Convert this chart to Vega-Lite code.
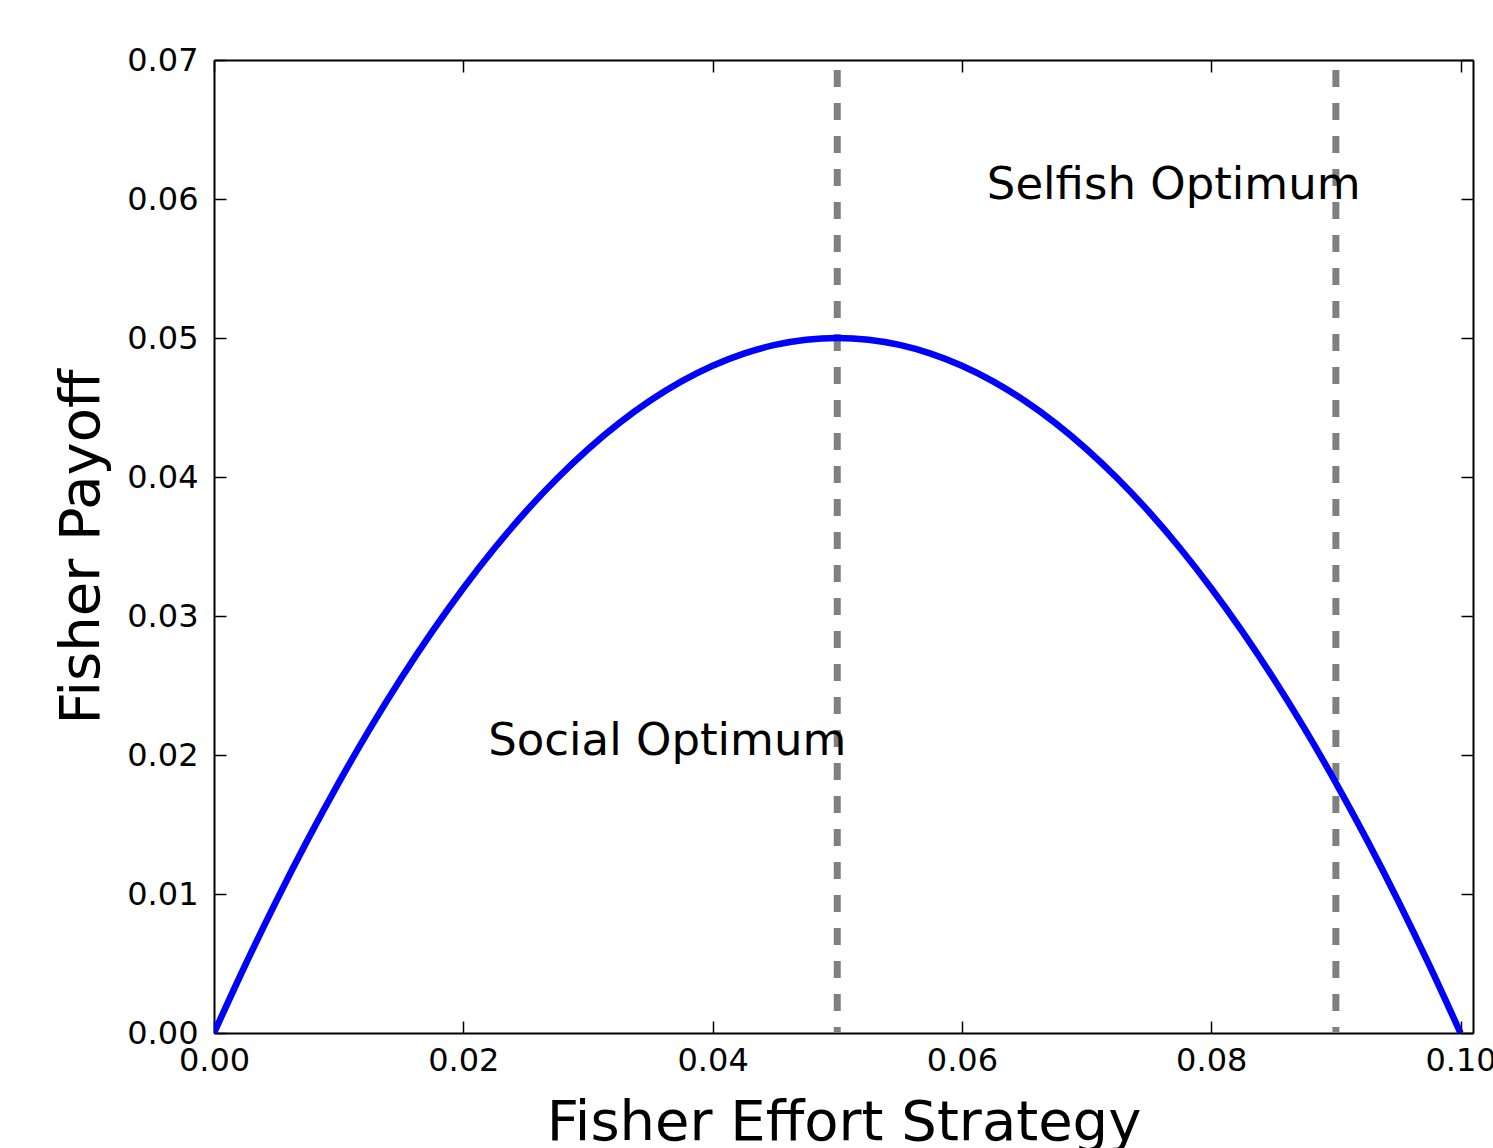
{
  "$schema": "https://vega.github.io/schema/vega-lite/v6.json",
  "width": 1259,
  "height": 973,
  "autosize": "none",
  "padding": {"left": 214, "top": 60, "right": 20, "bottom": 115},
  "background": "white",
  "config": {
    "font": "DejaVu Sans",
    "view": {"stroke": null},
    "axis": {
      "grid": false,
      "domainColor": "black",
      "domainWidth": 2,
      "tickColor": "black",
      "tickWidth": 1.5,
      "tickSize": -12,
      "labelFont": "DejaVu Sans",
      "labelFontSize": 32,
      "labelColor": "black",
      "titleFont": "DejaVu Sans",
      "titleFontSize": 56,
      "titleFontWeight": "normal",
      "titleColor": "black",
      "labelOverlap": false,
      "labelFlush": false
    }
  },
  "datasets": {
    "curve": [
      {"effort": 0.0, "payoff": 0.0},
      {"effort": 0.0025, "payoff": 0.004875},
      {"effort": 0.005, "payoff": 0.0095},
      {"effort": 0.0075, "payoff": 0.013875},
      {"effort": 0.01, "payoff": 0.018},
      {"effort": 0.0125, "payoff": 0.021875},
      {"effort": 0.015, "payoff": 0.0255},
      {"effort": 0.0175, "payoff": 0.028875},
      {"effort": 0.02, "payoff": 0.032},
      {"effort": 0.0225, "payoff": 0.034875},
      {"effort": 0.025, "payoff": 0.0375},
      {"effort": 0.0275, "payoff": 0.039875},
      {"effort": 0.03, "payoff": 0.042},
      {"effort": 0.0325, "payoff": 0.043875},
      {"effort": 0.035, "payoff": 0.0455},
      {"effort": 0.0375, "payoff": 0.046875},
      {"effort": 0.04, "payoff": 0.048},
      {"effort": 0.0425, "payoff": 0.048875},
      {"effort": 0.045, "payoff": 0.0495},
      {"effort": 0.0475, "payoff": 0.049875},
      {"effort": 0.05, "payoff": 0.05},
      {"effort": 0.0525, "payoff": 0.049875},
      {"effort": 0.055, "payoff": 0.0495},
      {"effort": 0.0575, "payoff": 0.048875},
      {"effort": 0.06, "payoff": 0.048},
      {"effort": 0.0625, "payoff": 0.046875},
      {"effort": 0.065, "payoff": 0.0455},
      {"effort": 0.0675, "payoff": 0.043875},
      {"effort": 0.07, "payoff": 0.042},
      {"effort": 0.0725, "payoff": 0.039875},
      {"effort": 0.075, "payoff": 0.0375},
      {"effort": 0.0775, "payoff": 0.034875},
      {"effort": 0.08, "payoff": 0.032},
      {"effort": 0.0825, "payoff": 0.028875},
      {"effort": 0.085, "payoff": 0.0255},
      {"effort": 0.0875, "payoff": 0.021875},
      {"effort": 0.09, "payoff": 0.018},
      {"effort": 0.0925, "payoff": 0.013875},
      {"effort": 0.095, "payoff": 0.0095},
      {"effort": 0.0975, "payoff": 0.004875},
      {"effort": 0.1, "payoff": 0.0}
    ],
    "optima": [
      {"effort": 0.05},
      {"effort": 0.09}
    ],
    "labels": [
      {"effort": 0.022, "payoff": 0.02, "label": "Social Optimum"},
      {"effort": 0.062, "payoff": 0.06, "label": "Selfish Optimum"}
    ]
  },
  "layer": [
    {
      "data": {"name": "optima"},
      "mark": {"type": "rule", "color": "#808080", "strokeWidth": 7, "strokeDash": [17, 16], "strokeDashOffset": -10},
      "encoding": {
        "x": {
          "field": "effort", "type": "quantitative",
          "scale": {"domain": [0, 0.101], "nice": false, "zero": false},
          "axis": {"orient": "top", "labels": false, "title": null, "values": [0, 0.02, 0.04, 0.06, 0.08, 0.1]}
        }
      }
    },
    {
      "data": {"name": "curve"},
      "mark": {"type": "line", "color": "#0000ff", "strokeWidth": 6.5, "interpolate": "monotone", "clip": true},
      "encoding": {
        "x": {
          "field": "effort", "type": "quantitative",
          "scale": {"domain": [0, 0.101], "nice": false, "zero": false},
          "axis": {
            "orient": "bottom", "title": "Fisher Effort Strategy", "format": ".2f",
            "values": [0, 0.02, 0.04, 0.06, 0.08, 0.1],
            "labelPadding": 24, "labelBaseline": "top",
            "titleX": 629.5, "titleY": 106, "titleBaseline": "alphabetic", "titleAlign": "center"
          }
        },
        "y": {
          "field": "payoff", "type": "quantitative",
          "scale": {"domain": [0, 0.07], "nice": false, "zero": false},
          "axis": {
            "orient": "left", "title": "Fisher Payoff", "format": ".2f",
            "values": [0, 0.01, 0.02, 0.03, 0.04, 0.05, 0.06, 0.07],
            "labelPadding": 28,
            "titleX": -116, "titleY": 486.5, "titleAngle": -90, "titleBaseline": "alphabetic", "titleAlign": "center"
          }
        }
      }
    },
    {
      "data": {"name": "labels"},
      "mark": {"type": "text", "fontSize": 45, "font": "DejaVu Sans", "align": "left", "baseline": "alphabetic", "color": "black"},
      "encoding": {
        "x": {
          "field": "effort", "type": "quantitative",
          "scale": {"domain": [0, 0.101], "nice": false, "zero": false},
          "axis": null
        },
        "y": {
          "field": "payoff", "type": "quantitative",
          "scale": {"domain": [0, 0.07], "nice": false, "zero": false},
          "axis": {"orient": "right", "labels": false, "title": null, "values": [0, 0.01, 0.02, 0.03, 0.04, 0.05, 0.06, 0.07]}
        },
        "text": {"field": "label"}
      }
    }
  ],
  "resolve": {"axis": {"x": "independent", "y": "independent"}}
}
